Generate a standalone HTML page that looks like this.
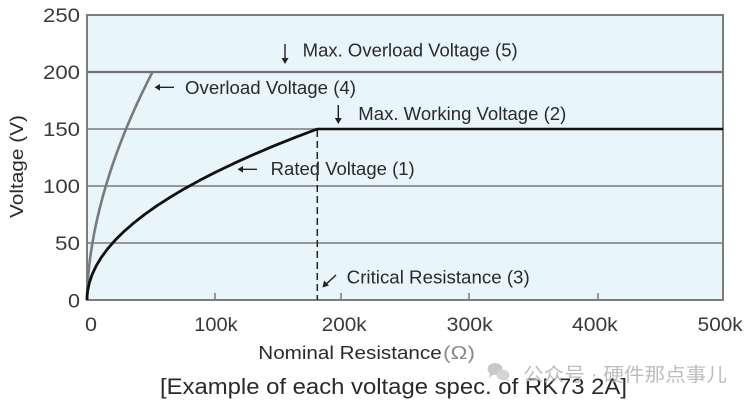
<!DOCTYPE html>
<html><head><meta charset="utf-8"><style>
html,body{margin:0;padding:0;background:#fff;}
svg{display:block;}
text{font-family:"Liberation Sans",Arial,sans-serif;}
</style></head><body>
<svg width="752" height="405" viewBox="0 0 752 405" xmlns="http://www.w3.org/2000/svg">
<rect x="0" y="0" width="752" height="405" fill="#fff"/>
<!-- plot bg -->
<rect x="87" y="15" width="636" height="285" fill="#e8f5fb"/>
<!-- gridlines -->
<g stroke="#7a7a7a" stroke-width="1.5">
<line x1="87" y1="243" x2="723" y2="243"/>
<line x1="87" y1="186" x2="723" y2="186"/>
<line x1="87" y1="129" x2="723" y2="129"/>
</g>
<line x1="87" y1="72" x2="723" y2="72" stroke="#707070" stroke-width="2.2"/>
<!-- ticks -->
<g stroke="#7a7a7a" stroke-width="1.5">
<line x1="215" y1="293" x2="215" y2="300"/>
<line x1="341" y1="293" x2="341" y2="300"/>
<line x1="469" y1="293" x2="469" y2="300"/>
<line x1="598" y1="293" x2="598" y2="300"/>
</g>
<!-- border -->
<rect x="87" y="15" width="636" height="285" fill="none" stroke="#7c7c7c" stroke-width="2"/>
<!-- dashed critical -->
<line x1="317.3" y1="130" x2="317.3" y2="300" stroke="#222" stroke-width="1.5" stroke-dasharray="7 4"/>
<!-- max working line -->
<line x1="317" y1="129" x2="723" y2="129" stroke="#111" stroke-width="2.6"/>
<!-- overload curve -->
<polyline fill="none" stroke="#7a7a7a" stroke-width="2.6" stroke-linejoin="round" points="87,300 87.30,288.6 88.04,277.2 89.15,265.8 90.62,254.4 92.40,243.0 94.50,231.6 96.90,220.2 99.59,208.8 102.56,197.4 105.81,186.0 109.33,174.6 113.11,163.2 117.16,151.8 121.47,140.4 126.02,129.0 130.83,117.6 135.89,106.2 141.19,94.8 146.72,83.4 152.5,72"/>
<!-- rated curve -->
<polyline fill="none" stroke="#111" stroke-width="2.8" stroke-linejoin="round" points="87,300 87.14,295.7 87.58,291.45 89.30,282.9 92.18,274.35 96.21,265.8 101.39,257.25 107.72,248.7 115.20,240.15 123.83,231.6 133.62,223.05 144.55,214.5 156.63,205.95 169.87,197.4 184.26,188.85 199.80,180.3 216.49,171.75 234.33,163.2 253.32,154.65 273.46,146.1 294.76,137.55 317.3,129"/>
<!-- arrows -->
<g stroke="#222" stroke-width="1.4" fill="#222">
<line x1="285" y1="44" x2="285" y2="61"/>
<polygon points="281.5,58 288.5,58 285,64" stroke="none"/>
<line x1="338.3" y1="105" x2="338.3" y2="121"/>
<polygon points="334.8,118 341.8,118 338.3,124" stroke="none"/>
<line x1="157" y1="87.3" x2="174" y2="87.3"/>
<polygon points="160,84 160,90.6 154.5,87.3" stroke="none"/>
<line x1="240" y1="169.3" x2="257" y2="169.3"/>
<polygon points="243,166 243,172.6 237.5,169.3" stroke="none"/>
<line x1="336" y1="275" x2="325.5" y2="284.7"/>
<polygon points="322.5,287.5 324,280.5 329,285.5" stroke="none"/>
</g>
<!-- annotations -->
<g fill="#2a2a2a" font-size="18">
<text x="302.7" y="56.7" textLength="215" lengthAdjust="spacingAndGlyphs">Max. Overload Voltage (5)</text>
<text x="185" y="94" textLength="171" lengthAdjust="spacingAndGlyphs">Overload Voltage (4)</text>
<text x="358.3" y="120" textLength="208" lengthAdjust="spacingAndGlyphs">Max. Working Voltage (2)</text>
<text x="270.7" y="175" textLength="144" lengthAdjust="spacingAndGlyphs">Rated Voltage (1)</text>
<text x="346.7" y="283.5" textLength="183" lengthAdjust="spacingAndGlyphs">Critical Resistance (3)</text>
</g>
<!-- y tick labels -->
<g fill="#3a3a3a" font-size="19" text-anchor="end">
<text x="80" y="22" textLength="37" lengthAdjust="spacingAndGlyphs">250</text>
<text x="80" y="79" textLength="37" lengthAdjust="spacingAndGlyphs">200</text>
<text x="80" y="136" textLength="37" lengthAdjust="spacingAndGlyphs">150</text>
<text x="80" y="193" textLength="37" lengthAdjust="spacingAndGlyphs">100</text>
<text x="80" y="250" textLength="25" lengthAdjust="spacingAndGlyphs">50</text>
<text x="80" y="307.5" textLength="12" lengthAdjust="spacingAndGlyphs">0</text>
</g>
<!-- x tick labels -->
<g fill="#3a3a3a" font-size="19">
<text x="85" y="331" textLength="12" lengthAdjust="spacingAndGlyphs">0</text>
<text x="194.3" y="331" textLength="43.3" lengthAdjust="spacingAndGlyphs">100k</text>
<text x="321.7" y="331" textLength="45" lengthAdjust="spacingAndGlyphs">200k</text>
<text x="446.7" y="331" textLength="46" lengthAdjust="spacingAndGlyphs">300k</text>
<text x="572" y="331" textLength="45.7" lengthAdjust="spacingAndGlyphs">400k</text>
<text x="697.7" y="331" textLength="45" lengthAdjust="spacingAndGlyphs">500k</text>
</g>
<!-- axis titles -->
<text x="258.3" y="359" font-size="18" fill="#2a2a2a" textLength="183.4" lengthAdjust="spacingAndGlyphs">Nominal Resistance</text>
<text x="443" y="359" font-size="18" fill="#8a8a8a" textLength="32" lengthAdjust="spacingAndGlyphs">(Ω)</text>
<text transform="translate(23,166.5) rotate(-90)" text-anchor="middle" font-size="18" fill="#2a2a2a" textLength="103" lengthAdjust="spacingAndGlyphs">Voltage (V)</text>
<!-- caption -->
<text x="160" y="394" font-size="22" fill="#2a2a2a" textLength="467" lengthAdjust="spacingAndGlyphs">[Example of each voltage spec. of RK73 2A]</text>
<!-- watermark -->
<g fill="#c4c4c4" opacity="0.9">
<ellipse cx="495" cy="369" rx="7.5" ry="6"/>
<polygon points="490,373 489,378 494,374"/>
<ellipse cx="503" cy="375" rx="6.5" ry="5.2" fill="#d0d0d0"/>
<polygon points="507,378 509,382 504,379" fill="#d0d0d0"/>
</g>
<text x="523" y="381" font-size="19" fill="#bdbdbd" textLength="204" lengthAdjust="spacingAndGlyphs" style="font-family:'Liberation Sans','Noto Sans CJK SC',sans-serif">公众号 · 硬件那点事儿</text>
</svg>
</body></html>
